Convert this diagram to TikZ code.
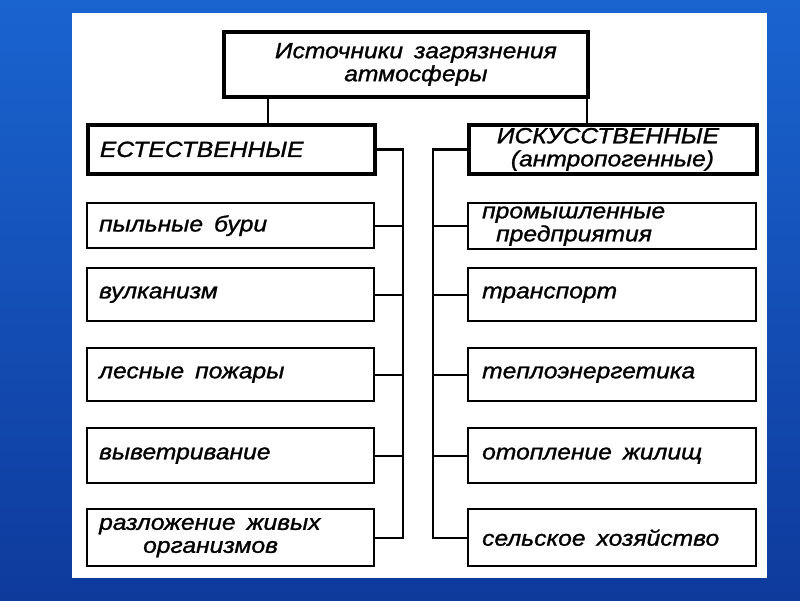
\documentclass[tikz,border=0pt]{standalone}
\usepackage{fontspec}
\setmainfont{Liberation Sans}[FakeStretch=1.12,FakeBold=1.2]
\usetikzlibrary{calc}
\newcommand\wsp{\hspace{0.5em}}
\definecolor{bgtop}{RGB}{26,100,208}
\definecolor{bgbot}{RGB}{14,58,156}
\begin{document}
\begin{tikzpicture}[x=1pt,y=-1pt,
  box/.style={draw, line width=2.3pt, rectangle, anchor=north west, align=left,
    inner xsep=12pt, inner ysep=0pt, minimum width=287pt, text width=263pt,
    font=\fontsize{22}{23}\selectfont\itshape},
  rbox/.style={box, inner xsep=14pt, minimum width=288pt, text width=260pt},
  head/.style={line width=3.8pt},
  wire/.style={line width=2.2pt}]
\useasboundingbox (0,0) rectangle (800,600);
\shade[top color=bgtop, bottom color=bgbot] (0,0) rectangle (800,600);
\fill[white] (72,13) rectangle (767,578);

% top
\node[box, head, align=center, minimum width=364pt, text width=340pt, minimum height=65pt]
  (top) at (222,30) {\hspace*{20pt}Источники\wsp загрязнения\\\hspace*{20pt}атмосферы};

% category heads
\node[box, head, minimum height=49pt] (est) at (86,123) {ЕСТЕСТВЕННЫЕ};
\node[rbox, head, minimum height=49pt, inner xsep=28pt, text width=232pt] (isk) at (467,123)
  {ИСКУССТВЕННЫЕ\\\hspace*{14pt}(антропогенные)};

% left column
\node[box, minimum height=45pt] (l1) at (86,202) {пыльные\wsp бури};
\node[box, minimum height=53pt] (l2) at (86,267) {вулканизм};
\node[box, minimum height=53pt] (l3) at (86,347) {лесные\wsp пожары};
\node[box, minimum height=55pt] (l4) at (86,427) {выветривание};
\node[box, minimum height=57pt] (l5) at (86,508) {разложение\wsp живых\\\hspace*{44pt}организмов};

% right column
\node[rbox, minimum height=46pt] (r1) at (467,202)
  {промышленные\\\hspace*{14pt}предприятия};
\node[rbox, minimum height=53pt] (r2) at (467,267) {транспорт};
\node[rbox, minimum height=53pt] (r3) at (467,347) {теплоэнергетика};
\node[rbox, minimum height=55pt] (r4) at (467,427) {отопление\wsp жилищ};
\node[rbox, minimum height=57pt] (r5) at (467,508) {сельское\wsp хозяйство};

% connectors from top
\draw[wire] ([xshift=46pt]top.south west) coordinate (ta) -- (ta |- est.north);
\draw[wire] ([xshift=-3pt]top.south east) coordinate (tb) -- (tb |- isk.north);

% left bus
\coordinate (lb) at (403,0);
\draw[wire] (est.east) -- (est.east -| lb) -- (l5.east -| lb) -- (l5.east);
\foreach \n in {l1,l2,l3,l4} \draw[wire] (\n.east) -- (\n.east -| lb);

% right bus
\coordinate (rb) at (433,0);
\draw[wire] (isk.west) -- (isk.west -| rb) -- (r5.west -| rb) -- (r5.west);
\foreach \n in {r1,r2,r3,r4} \draw[wire] (\n.west) -- (\n.west -| rb);
\end{tikzpicture}
\end{document}
